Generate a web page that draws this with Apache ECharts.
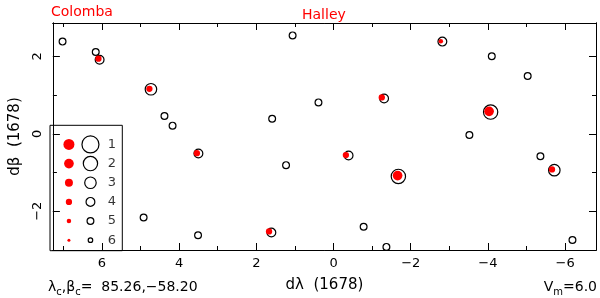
<!DOCTYPE html>
<html>
<head>
<meta charset="utf-8">
<script src="https://cdn.jsdelivr.net/npm/echarts@6/dist/echarts.min.js"></script>
<style>
  html, body { margin: 0; padding: 0; background: #fff; }
  #chart { width: 600px; height: 298px; }
</style>
</head>
<body>
<div id="chart"></div>
<script>
// field stars drawn as open circles: [dλ, dβ, magnitude class]
var fieldStars = [
  [7.02, 2.38, 5], [6.16, 2.11, 5], [4.38, 0.46, 5], [4.17, 0.21, 5],
  [1.59, 0.39, 5], [1.06, 2.54, 5], [0.39, 0.81, 5], [-4.10, 2.00, 5],
  [-5.03, 1.49, 5], [-3.52, -0.03, 5], [-5.36, -0.58, 5], [-0.78, -2.40, 5],
  [-1.37, -2.92, 5], [-6.19, -2.74, 5], [1.23, -0.81, 5], [4.92, -2.16, 5],
  [3.51, -2.62, 5]
];
// stars matched by a comet position (open circle + red dot)
var matchedStars = [
  [6.06, 1.91, 4], [4.73, 1.15, 3], [3.50, -0.51, 4], [1.61, -2.55, 4],
  [-0.39, -0.56, 4], [-1.31, 0.91, 4], [-2.82, 2.38, 4], [-1.68, -1.10, 2],
  [-4.07, 0.56, 2], [-5.72, -0.94, 3]
];
var cometDots = [
  [6.09, 1.94, 4], [4.77, 1.16, 4], [3.54, -0.50, 4], [1.67, -2.52, 4],
  [-0.32, -0.55, 4], [-1.25, 0.94, 4], [-2.78, 2.39, 5], [-1.66, -1.08, 2],
  [-4.03, 0.58, 2], [-5.66, -0.92, 4]
];
var legendClasses = [1, 2, 3, 4, 5, 6];

var xMajor = [-6, -4, -2, 0, 2, 4, 6];
var xMinor = [-6, -5, -4, -3, -2, -1, 0, 1, 2, 3, 4, 5, 6, 7];
var yMajor = [-2, 0, 2];
var yMinor = [-3, -2, -1, 0, 1, 2];

// symbol size for each magnitude class
var circleSize = { 1: 17, 2: 14.3, 3: 11.5, 4: 8.8, 5: 6.8, 6: 4.5 };
var dotSize = { 1: 11, 2: 9.7, 3: 8, 4: 6.3, 5: 4.5, 6: 3 };

var FONT = 'DejaVu Sans';
var minus = function (v) { return String(v).replace('-', '\u2212'); };

var chart = echarts.init(document.getElementById('chart'), null, { renderer: 'canvas' });

var X_MIN = -6.8, X_MAX = 7.27, Y_MIN = -3.0, Y_MAX = 2.86;

function xAx(pos, values, len, labels) {
  return {
    type: 'value', gridIndex: 0, position: pos, inverse: true,
    min: X_MIN, max: X_MAX,
    axisLine: { show: true, onZero: false, lineStyle: { color: '#000', width: 1 } },
    axisTick: { show: true, inside: true, length: len, customValues: values, lineStyle: { color: '#000' } },
    axisLabel: labels ? {
      show: true, customValues: xMajor, margin: 7, color: '#000',
      fontFamily: FONT, fontSize: 13, formatter: minus
    } : { show: false },
    splitLine: { show: false }
  };
}
function yAx(pos, values, len, labels) {
  return {
    type: 'value', gridIndex: 0, position: pos,
    min: Y_MIN, max: Y_MAX,
    axisLine: { show: true, onZero: false, lineStyle: { color: '#000', width: 1 } },
    axisTick: { show: true, inside: true, length: len, customValues: values, lineStyle: { color: '#000' } },
    axisLabel: labels ? {
      show: true, customValues: yMajor, margin: 9, rotate: 90, color: '#000',
      fontFamily: FONT, fontSize: 13, formatter: minus
    } : { show: false },
    splitLine: { show: false }
  };
}

var xAxes = [
  xAx('bottom', xMajor, 7, true),
  xAx('bottom', xMinor, 4, false),
  xAx('top', xMajor, 7, false),
  xAx('top', xMinor, 4, false)
];
xAxes[0].name = 'd\u03bb  (1678)';
xAxes[0].nameLocation = 'middle';
xAxes[0].nameGap = 28;
xAxes[0].nameTextStyle = { fontFamily: FONT, fontSize: 15, color: '#000' };

var yAxes = [
  yAx('left', yMajor, 7, true),
  yAx('left', yMinor, 4, false),
  yAx('right', yMajor, 7, false),
  yAx('right', yMinor, 4, false)
];
yAxes[0].name = 'd\u03b2  (1678)';
yAxes[0].nameLocation = 'middle';
yAxes[0].nameGap = 26;
yAxes[0].nameTextStyle = { fontFamily: FONT, fontSize: 15, color: '#000' };

// legend box axes
xAxes.push({
  type: 'value', gridIndex: 1, min: -0.88, max: 2.48,
  axisLine: { show: false }, axisTick: { show: false }, axisLabel: { show: false }, splitLine: { show: false }
});
yAxes.push({
  type: 'value', gridIndex: 1, min: 0, max: 6.55, inverse: true,
  axisLine: { show: false }, axisTick: { show: false }, axisLabel: { show: false }, splitLine: { show: false }
});

var circleStyle = { color: 'rgba(0,0,0,0)', borderColor: '#000', borderWidth: 1.2, opacity: 1 };
var dotStyle = { color: '#ff0000', opacity: 1 };

var option = {
  animation: false,
  backgroundColor: '#fff',
  textStyle: { fontFamily: FONT },
  title: [
    { text: 'Colomba', left: 51, top: 5, padding: 0,
      textStyle: { color: '#ff0000', fontFamily: FONT, fontSize: 14, fontWeight: 'normal' } },
    { text: 'Halley', left: 302, top: 8, padding: 0,
      textStyle: { color: '#ff0000', fontFamily: FONT, fontSize: 14, fontWeight: 'normal' } },
    { text: '\u03bb{s|c},\u03b2{s|c}=  85.26,\u221258.20', left: 48, top: 278, padding: 0,
      textStyle: { color: '#000', fontFamily: FONT, fontSize: 14, fontWeight: 'normal',
        rich: { s: { fontFamily: FONT, fontSize: 10, color: '#000', padding: [9, 0, 0, 0] } } } },
    { text: 'V{s|m}=6.0', right: 3, top: 278, padding: 0,
      textStyle: { color: '#000', fontFamily: FONT, fontSize: 14, fontWeight: 'normal',
        rich: { s: { fontFamily: FONT, fontSize: 10, color: '#000', padding: [9, 0, 0, 0] } } } }
  ],
  grid: [
    { left: 50, right: 4, top: 23, bottom: 47.3, containLabel: false },
    { left: 50, top: 125.3, width: 72.3, height: 125.4, show: true,
      borderColor: '#000', borderWidth: 1, backgroundColor: 'rgba(0,0,0,0)' }
  ],
  xAxis: xAxes,
  yAxis: yAxes,
  series: [
    {
      type: 'scatter', xAxisIndex: 0, yAxisIndex: 0, symbol: 'circle',
      data: fieldStars.concat(matchedStars),
      symbolSize: function (v) { return circleSize[v[2]]; },
      itemStyle: circleStyle, silent: true, z: 2
    },
    {
      type: 'scatter', xAxisIndex: 0, yAxisIndex: 0, symbol: 'circle',
      data: cometDots,
      symbolSize: function (v) { return dotSize[v[2]]; },
      itemStyle: dotStyle, silent: true, z: 3
    },
    {
      type: 'scatter', xAxisIndex: 4, yAxisIndex: 4, symbol: 'circle',
      data: legendClasses.map(function (c) { return [0, c]; }),
      symbolSize: function (v) { return dotSize[v[1]]; },
      itemStyle: dotStyle, silent: true, z: 3
    },
    {
      type: 'scatter', xAxisIndex: 4, yAxisIndex: 4, symbol: 'circle',
      data: legendClasses.map(function (c) { return [1, c]; }),
      symbolSize: function (v) { return circleSize[v[1]]; },
      itemStyle: circleStyle, silent: true, z: 3
    },
    {
      type: 'scatter', xAxisIndex: 4, yAxisIndex: 4, symbol: 'circle',
      data: legendClasses.map(function (c) { return [2, c]; }),
      symbolSize: 0, silent: true, z: 3,
      label: {
        show: true, position: 'inside', color: '#000', fontFamily: FONT, fontSize: 13,
        formatter: function (p) { return String(p.value[1]); }
      }
    }
  ]
};

chart.setOption(option);
window.addEventListener('resize', function () { chart.resize(); });
</script>
</body>
</html>
